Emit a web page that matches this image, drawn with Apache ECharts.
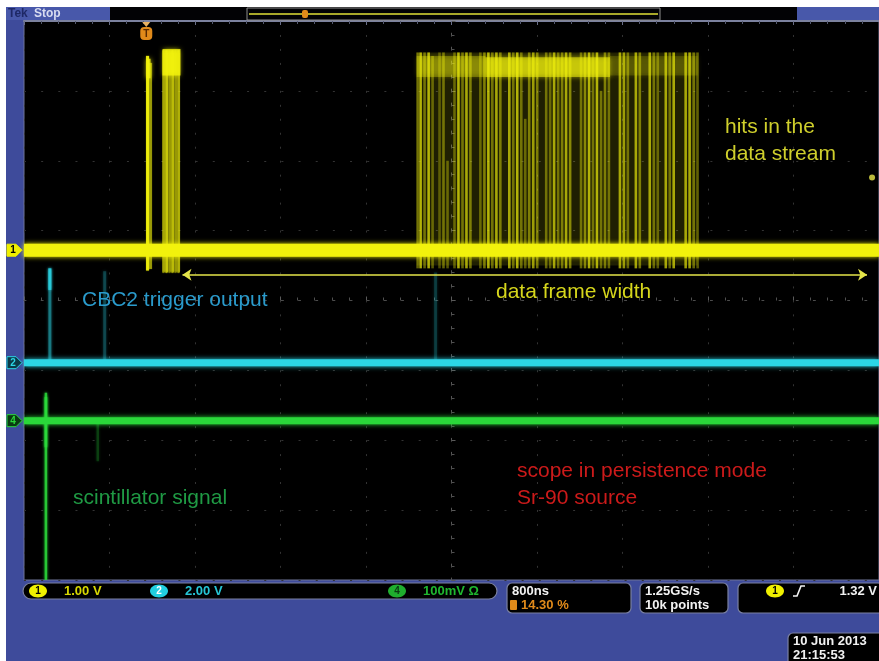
<!DOCTYPE html>
<html>
<head>
<meta charset="utf-8">
<script src="https://cdn.jsdelivr.net/npm/echarts@6/dist/echarts.min.js"></script>
<style>
  html, body { margin: 0; padding: 0; background: #fff; }
  #main { width: 879px; height: 661px; }
</style>
</head>
<body>
<div id="main"></div>
<script>
// ---- Acquisition settings --------------------------------------------------
// 800 ns/div over 10 divisions, time counted from the screen centre
const timeRange = [-4000, 4000];
const timeDiv = 800;
// vertical scale in divisions (8 divisions)
const levelRange = [-4, 4];
// trigger point sits at 14.30 % of the record
const triggerTime = -2856;

// ---- Channel ground levels (divisions) -----------------------------------
const ch1Level = 0.72;
const ch2Level = -0.89;
const ch4Level = -1.72;

// ---- CH1 (CBC2 data output) ------------------------------------------------
// pulses around the trigger: [time ns, low div, high div, intensity]
const ch1TriggerPulses = [
  [-2844, 0.43, 3.50, 0.85],
  [-2816, 0.45, 3.40, 0.40],
  [-2695, 0.40, 3.58, 0.40],
  [-2667, 0.40, 3.58, 0.55],
  [-2639, 0.40, 3.58, 0.35],
  [-2611, 0.40, 3.58, 0.50],
  [-2583, 0.40, 3.58, 0.35],
  [-2555, 0.40, 3.58, 0.45]
];
// undershoot reached by the stream hits (div)
const ch1Undershoot = 0.46;
// hits in the data stream: [time ns, high div, intensity]
const ch1StreamHits = [
  [-317, 3.55, 0.40], [-289, 3.55, 0.70], [-252, 3.55, 0.40], [-214, 3.55, 0.70],
  [-177, 3.50, 0.35], [-112, 3.55, 0.30], [-75, 3.55, 0.40], [-37, 2.00, 0.35],
  [28, 3.55, 0.35], [65, 3.55, 0.70], [103, 3.55, 0.40], [140, 3.55, 0.65],
  [177, 3.55, 0.45], [270, 3.55, 0.35], [308, 3.55, 0.45], [345, 3.55, 0.70],
  [382, 3.55, 0.40], [420, 3.55, 0.65], [457, 3.55, 0.45], [541, 3.55, 0.65],
  [578, 3.55, 0.40], [615, 3.55, 0.70], [653, 3.55, 0.40], [690, 2.60, 0.35],
  [727, 3.55, 0.45], [765, 3.55, 0.60], [802, 3.55, 0.45], [886, 3.55, 0.40],
  [923, 3.55, 0.35], [960, 3.55, 0.65], [998, 3.55, 0.40], [1035, 3.55, 0.45],
  [1072, 3.55, 0.65], [1110, 3.55, 0.50], [1212, 3.55, 0.40], [1249, 3.55, 0.50],
  [1287, 3.55, 0.70], [1324, 3.55, 0.40], [1361, 3.55, 0.70], [1399, 3.00, 0.40],
  [1436, 3.55, 0.45], [1473, 3.55, 0.40], [1576, 3.55, 0.65], [1613, 3.55, 0.60],
  [1650, 3.55, 0.40], [1725, 3.55, 0.65], [1762, 3.55, 0.45], [1855, 3.55, 0.65],
  [1893, 3.55, 0.40], [1930, 3.55, 0.35], [2005, 3.55, 0.65], [2042, 3.55, 0.40],
  [2079, 3.55, 0.65], [2191, 3.55, 0.65], [2228, 3.55, 0.65], [2266, 3.55, 0.40],
  [2303, 3.55, 0.35]
];
// faint persistence haze behind the hits: [t0, t1, low div, high div, intensity]
const ch1Haze = [
  [-326, 2303, 0.50, 3.55, 0.13],
  [-2704, -2536, 0.42, 3.58, 0.15]
];
// persistence build-up at the logic-high level: [t0, t1, low div, high div, intensity]
const ch1HighLevel = [
  [-2853, -2816, 3.18, 3.46, 0.85],
  [-2704, -2536, 3.22, 3.60, 0.80],
  [-326, 317, 3.20, 3.50, 0.30],
  [317, 1483, 3.20, 3.48, 0.55],
  [1483, 2303, 3.22, 3.50, 0.15]
];

// ---- CH2 (CBC2 trigger output): [time ns, low div, high div, intensity] ----
const ch2Pulses = [
  [-3758, -0.89, 0.46, 0.40],
  [-3758, 0.15, 0.46, 0.75],
  [-3245, -0.89, 0.42, 0.22],
  [-149, -0.89, 0.40, 0.18]
];

// ---- CH4 (scintillator): [time ns, low div, high div, intensity] ----------
const ch4Pulses = [
  [-3795, -4.00, -1.32, 0.85],
  [-3795, -2.10, -1.38, 0.95],
  [-3310, -2.30, -1.72, 0.20]
];

// data frame span marker: [start ns, end ns, level div]
const frameSpan = [-2517, 3888, 0.37];
// CH1 trigger level indicator: [time ns, level div]
const triggerLevelMarker = [3935, 1.76];

// ---- Readouts ---------------------------------------------------------------
const channelReadouts = [
  { ch: '1', text: '1.00 V' },
  { ch: '2', text: '2.00 V' },
  { ch: '4', text: '100mV \u03A9' }
];
const horizontalReadout = ['800ns', '14.30 %'];
const acquisitionReadout = ['1.25GS/s', '10k points'];
const triggerReadout = { ch: '1', level: '1.32 V' };
const dateReadout = ['10 Jun 2013', '21:15:53'];

// ---- Annotations ------------------------------------------------------------
const notes = [
  { text: 'CBC2 trigger output', x: 82, y: 300, color: '#2a9bcc' },
  { text: 'data frame width', x: 496, y: 292, color: '#d6d61c' },
  { text: 'hits in the', x: 725, y: 127, color: '#cfcf2c' },
  { text: 'data stream', x: 725, y: 154, color: '#cfcf2c' },
  { text: 'scintillator signal', x: 73, y: 498, color: '#1f9a44' },
  { text: 'scope in persistence mode', x: 517, y: 471, color: '#cc1a1a' },
  { text: 'Sr-90 source', x: 517, y: 498, color: '#cc1a1a' }
];

// ---- Colours ------------------------------------------------------------
const C1 = '#f2f20c';
const C2 = '#2cd6e6';
const C4 = '#2ad83a';
const FRAME = '#3e4b9b';
const UI_FONT = '"Liberation Sans", Arial, sans-serif';

const chart = echarts.init(document.getElementById('main'), null, { renderer: 'canvas', width: 879, height: 661 });

function vLineSeries(name, data, color, width, glow) {
  return {
    name, type: 'custom', coordinateSystem: 'cartesian2d', clip: true, silent: true,
    encode: { x: 0, y: [1, 2] },
    data,
    renderItem(params, api) {
      const a = api.coord([api.value(0), api.value(1)]);
      const b = api.coord([api.value(0), api.value(2)]);
      return {
        type: 'line',
        shape: { x1: a[0], y1: a[1], x2: b[0], y2: b[1] },
        style: { stroke: color, lineWidth: width, opacity: api.value(3), shadowBlur: glow || 0, shadowColor: color }
      };
    }
  };
}

function bandSeries(name, data, color, blur) {
  return {
    name, type: 'custom', coordinateSystem: 'cartesian2d', clip: true, silent: true,
    encode: { x: [0, 1], y: [2, 3] },
    data,
    renderItem(params, api) {
      const a = api.coord([api.value(0), api.value(3)]);
      const b = api.coord([api.value(1), api.value(2)]);
      return {
        type: 'rect',
        shape: { x: a[0], y: a[1], width: b[0] - a[0], height: b[1] - a[1] },
        style: { fill: color, opacity: api.value(4), shadowBlur: blur, shadowColor: color }
      };
    }
  };
}

function baseline(name, level, color, width) {
  return {
    name, type: 'line', silent: true, symbol: 'none', animation: false,
    data: [[timeRange[0], level], [timeRange[1], level]],
    lineStyle: { color, width, shadowBlur: 5, shadowColor: color }
  };
}

const streamData = ch1StreamHits.map(h => [h[0], ch1Undershoot, h[1], h[2]]);

chart.setOption({
  animation: false,
  backgroundColor: FRAME,
  grid: {
    left: 24, top: 21, width: 858, height: 559,
    show: true, backgroundColor: '#000', borderColor: '#6f7597', borderWidth: 1
  },
  xAxis: [
    {
      type: 'value', min: timeRange[0], max: timeRange[1], interval: timeDiv,
      axisLabel: { show: false },
      axisLine: { onZero: true, lineStyle: { color: '#4c4c4c', width: 1, type: [2, 15.16] } },
      axisTick: { show: true, inside: true, length: 4, lineStyle: { color: '#5a5a5a' } },
      minorTick: { show: true, splitNumber: 5, length: 3, lineStyle: { color: '#505050' } },
      splitLine: { show: true, lineStyle: { color: '#333', width: 1, type: [2, 11.97] } }
    },
    {
      type: 'value', position: 'top', min: timeRange[0], max: timeRange[1], interval: timeDiv,
      axisLabel: { show: false },
      axisLine: { onZero: false, lineStyle: { color: '#7b819e', width: 2 } },
      axisTick: { show: true, inside: true, length: 4, lineStyle: { color: '#6a6f88' } },
      minorTick: { show: true, splitNumber: 5, length: 3, lineStyle: { color: '#555a70' } },
      splitLine: { show: false }
    }
  ],
  yAxis: [
    {
      type: 'value', min: levelRange[0], max: levelRange[1], interval: 1,
      axisLabel: { show: false },
      axisLine: { onZero: true, lineStyle: { color: '#555', width: 1, type: [2, 11.97] } },
      axisTick: { show: true, inside: true, length: 4, lineStyle: { color: '#5a5a5a' } },
      minorTick: { show: true, splitNumber: 5, length: 3, lineStyle: { color: '#505050' } },
      splitLine: { show: true, lineStyle: { color: '#333', width: 1, type: [2, 15.16] } }
    }
  ],
  series: [
    bandSeries('ch1 haze', ch1Haze, C1, 0),
    vLineSeries('ch1 stream hits', streamData, C1, 2.6, 0),
    vLineSeries('ch1 trigger pulses', ch1TriggerPulses, C1, 3, 1),
    bandSeries('ch1 high level', ch1HighLevel, C1, 5),
    vLineSeries('ch2 pulses', ch2Pulses, C2, 3, 3),
    vLineSeries('ch4 pulses', ch4Pulses, C4, 2.5, 3),
    baseline('ch1', ch1Level, C1, 13),
    baseline('ch2', ch2Level, C2, 7),
    baseline('ch4', ch4Level, C4, 7),
    {
      name: 'data frame', type: 'lines', coordinateSystem: 'cartesian2d', silent: true,
      symbol: ['arrow', 'arrow'], symbolSize: 9,
      lineStyle: { color: '#e4e44a', width: 1.6, opacity: 1, curveness: 0 },
      data: [{ coords: [[frameSpan[0], frameSpan[2]], [frameSpan[1], frameSpan[2]]] }]
    },
    {
      name: 'trigger level', type: 'scatter', silent: true, symbol: 'circle', symbolSize: 6,
      itemStyle: { color: '#e8e84a' },
      data: [triggerLevelMarker]
    }
  ]
});

// ---- Instrument frame, markers and readouts ------------------------------
const g = [];
function txt(x, y, text, fill, font, align) {
  g.push({
    type: 'text', z: 100,
    style: { x, y, text, fill, font, align: align || 'left', verticalAlign: 'middle',
             textAlign: align || 'left', textVerticalAlign: 'middle' }
  });
}
function box(x, y, w, h, r) {
  g.push({ type: 'rect', z: 90, shape: { x, y, width: w, height: h, r },
           style: { fill: '#000', stroke: '#7a80a2', lineWidth: 1.2 } });
}
function badge(cx, cy, label, fill, textColor) {
  g.push({ type: 'ellipse', z: 95, shape: { cx, cy, rx: 9, ry: 6.5 }, style: { fill } });
  txt(cx, cy + 0.5, label, textColor, 'bold 10px ' + UI_FONT, 'center');
}

// white margins
g.push({ type: 'rect', z: 80, shape: { x: 0, y: 0, width: 879, height: 7 }, style: { fill: '#fff' } });
g.push({ type: 'rect', z: 80, shape: { x: 0, y: 0, width: 6, height: 661 }, style: { fill: '#fff' } });

// top status bar
g.push({ type: 'rect', z: 85, shape: { x: 6, y: 7, width: 104, height: 13 }, style: { fill: '#4858aa' } });
g.push({ type: 'rect', z: 85, shape: { x: 110, y: 7, width: 687, height: 13 }, style: { fill: '#020205' } });
g.push({ type: 'rect', z: 85, shape: { x: 797, y: 7, width: 82, height: 13 }, style: { fill: '#4858aa' } });
txt(8, 14, 'Tek', '#1e2866', 'bold 12px ' + UI_FONT);
txt(34, 14, 'Stop', '#d8dcf0', 'bold 12px ' + UI_FONT);
g.push({ type: 'rect', z: 86, shape: { x: 247, y: 8, width: 413, height: 12 }, style: { fill: 'none', stroke: '#8d8d8d', lineWidth: 1 } });
g.push({ type: 'line', z: 87, shape: { x1: 249, y1: 14, x2: 658, y2: 14 }, style: { stroke: '#a8a82a', lineWidth: 2 } });
g.push({ type: 'rect', z: 88, shape: { x: 302, y: 10, width: 6, height: 8, r: 2 }, style: { fill: '#e08a1a' } });

// trigger position marker
const trigPx = chart.convertToPixel({ gridIndex: 0 }, [triggerTime, 0])[0];
g.push({ type: 'polygon', z: 95, shape: { points: [[trigPx - 4, 22], [trigPx + 4, 22], [trigPx, 27]] }, style: { fill: '#e8b060' } });
g.push({ type: 'rect', z: 95, shape: { x: trigPx - 6, y: 27, width: 12, height: 13, r: 4 }, style: { fill: '#e08a1a' } });
txt(trigPx, 34, 'T', '#5a2a00', 'bold 10px ' + UI_FONT, 'center');

// channel ground markers
function chMarker(level, label, fill, stroke, textColor) {
  const y = chart.convertToPixel({ gridIndex: 0 }, [timeRange[0], level])[1];
  g.push({ type: 'polygon', z: 95,
    shape: { points: [[7, y - 6], [16, y - 6], [22, y], [16, y + 6], [7, y + 6]] },
    style: { fill, stroke, lineWidth: 1 } });
  txt(13, y + 0.5, label, textColor, 'bold 10px ' + UI_FONT, 'center');
}
chMarker(ch1Level, '1', '#f0f000', '#f0f000', '#000');
chMarker(ch2Level, '2', '#0b3a48', '#2cd6e6', '#2cd6e6');
chMarker(ch4Level, '4', '#0a3a12', '#2ad83a', '#2ad83a');

// vertical readouts
box(23, 583, 474, 16, 8);
const chColors = { '1': ['#f0f000', '#000', '#d8d800'], '2': ['#22cfe0', '#fff', '#26c6d6'], '4': ['#1fae2e', '#0a3a12', '#1fb82f'] };
const badgeX = [38, 159, 397];
channelReadouts.forEach((r, i) => {
  const c = chColors[r.ch];
  badge(badgeX[i], 591, r.ch, c[0], c[1]);
  txt(badgeX[i] + 26, 591, r.text, c[2], 'bold 13px ' + UI_FONT);
});

// horizontal readout
box(507, 583, 124, 30, 5);
txt(512, 591, horizontalReadout[0], '#f2f2f2', 'bold 13px ' + UI_FONT);
g.push({ type: 'rect', z: 95, shape: { x: 510, y: 600, width: 7, height: 10, r: 1 }, style: { fill: '#e08a1a' } });
txt(521, 605, horizontalReadout[1], '#e08a1a', 'bold 13px ' + UI_FONT);

// acquisition readout
box(640, 583, 88, 30, 5);
txt(645, 591, acquisitionReadout[0], '#f2f2f2', 'bold 13px ' + UI_FONT);
txt(645, 605, acquisitionReadout[1], '#f2f2f2', 'bold 13px ' + UI_FONT);

// trigger readout
box(738, 583, 145, 30, 5);
badge(775, 591, triggerReadout.ch, '#f0f000', '#000');
g.push({ type: 'polyline', z: 95, shape: { points: [[793, 596], [797, 596], [801, 586], [805, 586]] },
         style: { stroke: '#f2f2f2', lineWidth: 1.6, fill: 'none' } });
txt(877, 591, triggerReadout.level, '#f2f2f2', 'bold 13px ' + UI_FONT, 'right');

// date
box(788, 633, 96, 34, 5);
txt(793, 641, dateReadout[0], '#f2f2f2', 'bold 13px ' + UI_FONT);
txt(793, 655, dateReadout[1], '#f2f2f2', 'bold 13px ' + UI_FONT);

// annotations
notes.forEach(n => txt(n.x, n.y, n.text, n.color, '21px ' + UI_FONT));

chart.setOption({ graphic: { elements: g } });
</script>
</body>
</html>
